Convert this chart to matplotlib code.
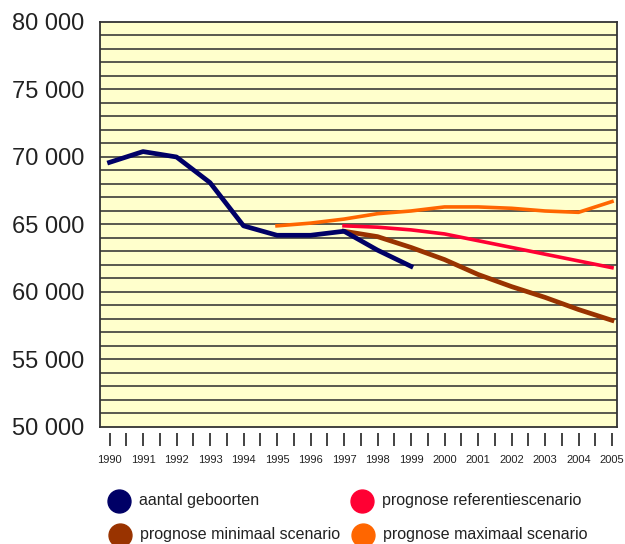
import matplotlib
matplotlib.use("Agg")
import matplotlib.pyplot as plt
from matplotlib.lines import Line2D

plt.rcParams['font.family'] = ['Liberation Sans', 'DejaVu Sans']

# ---- data ----
years_obs = [1990, 1991, 1992, 1993, 1994, 1995, 1996, 1997, 1998, 1999]
births = [69600, 70400, 70000, 68100, 64900, 64200, 64200, 64500, 63100, 61900]

years_ref = [1997, 1998, 1999, 2000, 2001, 2002, 2003, 2004, 2005]
ref_scenario = [64900, 64800, 64600, 64300, 63800, 63300, 62800, 62300, 61800]

years_min = [1997, 1998, 1999, 2000, 2001, 2002, 2003, 2004, 2005]
min_scenario = [64500, 64100, 63300, 62400, 61300, 60400, 59600, 58700, 57900]

years_max = [1995, 1996, 1997, 1998, 1999, 2000, 2001, 2002, 2003, 2004, 2005]
max_scenario = [64900, 65100, 65400, 65800, 66000, 66300, 66300, 66200, 66000, 65900, 66700]

x_ticks = [1990 + 0.5 * i for i in range(31)]
x_tick_labels = [str(y) for y in range(1990, 2006)]
y_ticks = [50000, 55000, 60000, 65000, 70000, 75000, 80000]
y_tick_labels = ["50 000", "55 000", "60 000", "65 000", "70 000", "75 000", "80 000"]
grid_levels = list(range(51000, 80000, 1000))

legend_labels = ["aantal geboorten", "prognose referentiescenario",
                 "prognose minimaal scenario", "prognose maximaal scenario"]
c_blue, c_brown, c_red, c_orange = "#000066", "#993300", "#FF0033", "#FF6600"
legend_colors = [c_blue, c_red, c_brown, c_orange]

W, H = 625, 544

# ---- figure ----
fig = plt.figure(figsize=(W / 100, H / 100), dpi=100)
ax = fig.add_axes([0.16, 0.2151, 0.8272, 0.7445])
ax.set_facecolor("#FFFFCC")
ax.set_xlim(1989.716, 2005.149)
ax.set_ylim(50000, 80000)

for g in grid_levels:
    ax.axhline(g, color="#333333", lw=1.15, zorder=1)

for s in ax.spines.values():
    s.set_color("#333333")
    s.set_linewidth(1.3)

ax.plot(years_max, max_scenario, color=c_orange, lw=2.6, zorder=3)
ax.plot(years_ref, ref_scenario, color=c_red, lw=2.6, zorder=3)
ax.plot(years_min, min_scenario, color=c_brown, lw=3.4, zorder=4)
ax.plot(years_obs, births, color=c_blue, lw=3.4, zorder=5)

ax.set_yticks(y_ticks)
ax.set_yticklabels(y_tick_labels, fontsize=17, color="#222222")
ax.tick_params(axis="y", length=0, pad=11)
ax.set_xticks([])

sec = ax.secondary_xaxis(location=-0.0148)
sec.spines["bottom"].set_visible(False)
sec.set_xticks(x_ticks)
sec.set_xticklabels([x_tick_labels[i // 2] if i % 2 == 0 else "" for i in range(31)],
                    fontsize=8, color="#222222")
sec.tick_params(axis="x", direction="out", length=9.4, width=1.2, color="#222222", pad=6.5)

# ---- legend (manual placement) ----
leg_pos = [(119, 501), (362, 501), (120, 535), (363, 535)]
for (px, py), lab, col in zip(leg_pos, legend_labels, legend_colors):
    fig.add_artist(Line2D([px / W], [1 - py / H], transform=fig.transFigure,
                          ls="", marker="o", markersize=16.5, color=col))
    fig.text((px + 20) / W, 1 - py / H, lab, fontsize=11.5, color="#222222",
             ha="left", va="center")

fig.savefig("out.png", dpi=100)
